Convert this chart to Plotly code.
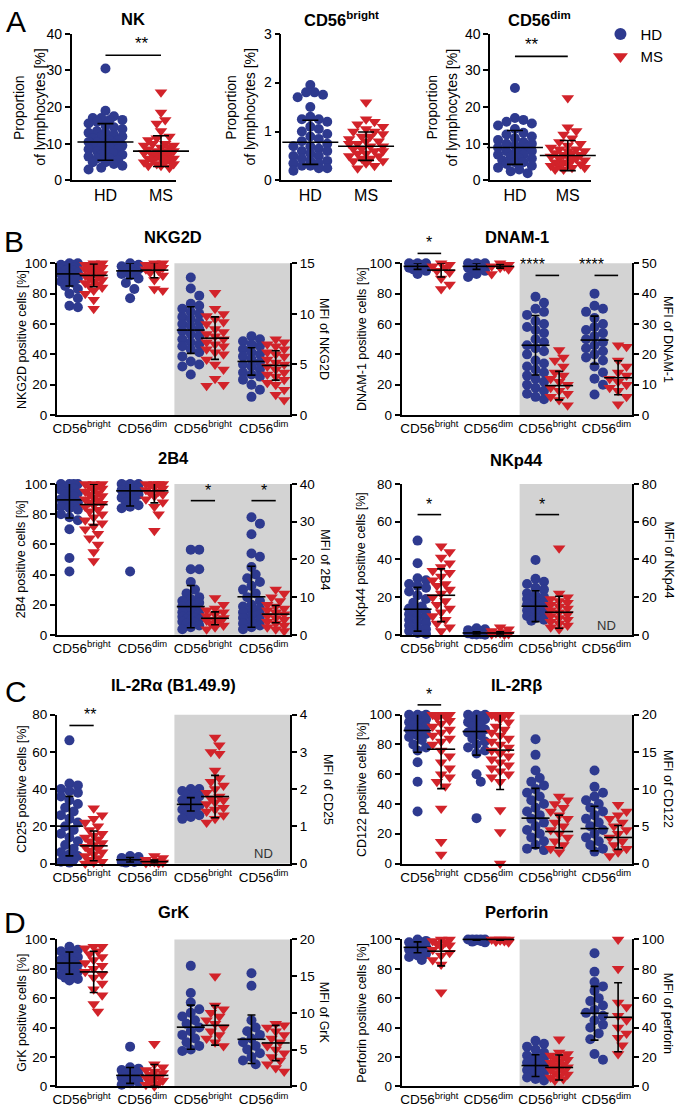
import plotly.graph_objects as go

W, H = 677, 1113
BLUE = "#2E3A8F"
RED = "#D2232A"
GREY = "#D3D3D3"
FONT = "Liberation Sans, Arial, sans-serif"

# ---------------- Panel A data ----------------
a_titles = ["NK", "CD56<sup>bright</sup>", "CD56<sup>dim</sup>"]
a_groups = ["HD", "MS"]
nk_hd = [30.5, 19, 17.5, 17, 17, 16.5, 16.5, 16, 15.5, 15, 14.5, 14, 13.5, 13, 13, 12.5, 12, 12, 11.5, 11, 11,
         10.5, 10.5, 10, 10, 9.5, 9.5, 9, 9, 8.5, 8.5, 8, 8, 7.5, 7, 7, 6.5, 6, 6, 5.5, 5, 5, 4.5, 4, 3.5, 3]
nk_ms = [24, 18.5, 16.5, 15.5, 13.5, 12, 11.5, 11, 10.5, 10, 10, 9.5, 9.5, 9, 9, 8.5, 8.5, 8, 8, 8, 7.5, 7.5, 7,
         7, 7, 6.5, 6.5, 6, 6, 6, 5.5, 5.5, 5, 5, 5, 4.5, 4.5, 4, 4, 3.5]
bright_hd = [1.95, 1.8, 1.8, 1.75, 1.7, 1.5, 1.3, 1.25, 1.25, 1.2, 1.1, 1.05, 1.0, 0.95, 0.9, 0.85, 0.8, 0.75, 0.7,
             0.7, 0.65, 0.6, 0.6, 0.55, 0.5, 0.5, 0.45, 0.4, 0.4, 0.35, 0.35, 0.3, 0.3, 0.25, 0.25, 0.2]
bright_ms = [1.6, 1.25, 1.2, 1.15, 1.1, 1.05, 1.0, 1.0, 0.95, 0.9, 0.9, 0.85, 0.8, 0.8, 0.75, 0.75, 0.7, 0.7, 0.65,
             0.65, 0.6, 0.6, 0.55, 0.55, 0.5, 0.5, 0.45, 0.45, 0.4, 0.4, 0.35, 0.3, 0.25]
dim_hd = [25.2, 17, 16.5, 16, 15.5, 15, 14, 13, 12.5, 12, 11.5, 11, 10.5, 10, 10, 9.5, 9, 9, 8.5, 8, 8, 7.5, 7, 7,
          6.5, 6, 6, 5.5, 5, 5, 4.5, 4, 3.5, 3, 2.5, 2]
dim_ms = [22.5, 14.5, 13.5, 12.5, 11.5, 10.5, 10, 9.5, 9, 8.5, 8.5, 8, 8, 7.5, 7.5, 7, 7, 6.5, 6.5, 6, 6, 5.5, 5.5,
          5, 5, 4.5, 4.5, 4, 4, 3.5, 3.5, 3, 3]
a_mean_hd = [10.5, 0.78, 9.0]
a_sd_hd = [5.0, 0.45, 4.6]
a_mean_ms = [8.0, 0.70, 6.8]
a_sd_ms = [4.2, 0.29, 4.1]
a_ymax = [40, 3, 40]
a_ystep = [10, 1, 10]
a_sig = [34.1, None, 33.8]

# ---------------- Panels B-D data ----------------
subset_labels = ["CD56<sup>bright</sup>", "CD56<sup>dim</sup>", "CD56<sup>bright</sup>", "CD56<sup>dim</sup>"]

nkg2d_hd = [[100, 100, 99, 99, 98, 98, 97, 97, 96, 96, 95, 95, 94, 94, 93, 92, 91, 90, 89, 88, 87, 85, 83, 80, 77, 72, 71],
            [100, 99, 98, 98, 97, 96, 95, 94, 93, 92, 90, 87, 83, 77],
            [13.6, 12.5, 11.8, 11, 10.8, 10.5, 10.2, 10, 9.7, 9.5, 9.2, 9, 8.8, 8.5, 8.3, 8, 7.8, 7.5, 7.2, 7, 6.8,
             6.5, 6.2, 5.8, 5.3, 5, 4.8, 4.0],
            [7.8, 7.5, 7.3, 7, 6.8, 6.5, 6.2, 6, 5.8, 5.5, 5.2, 5, 4.8, 4.5, 4.2, 4, 3.8, 3.5, 3, 2.5, 1.8]]
nkg2d_ms = [[100, 100, 99, 99, 98, 98, 97, 96, 95, 95, 94, 93, 92, 91, 90, 89, 88, 87, 86, 85, 84, 82, 80, 76, 70],
            [100, 100, 99, 99, 98, 98, 97, 96, 95, 94, 92, 89, 83, 82],
            [12.1, 10.5, 10, 9.8, 9.5, 9.2, 9, 8.5, 8.2, 8, 7.8, 7.5, 7.2, 7, 6.8, 6.5, 6.2, 6, 5.5, 5, 4.5, 3.6, 3.0, 2.9],
            [7.5, 7.2, 7, 6.8, 6.5, 6.2, 6, 5.8, 5.5, 5.2, 5, 4.8, 4.5, 4.2, 4, 3.8, 3.5, 3.2, 3, 2.5, 2, 1.5]]
nkg2d_hd_mean = [93, 95, 8.4, 5.3]
nkg2d_hd_sd = [8, 5, 2.3, 1.35]
nkg2d_ms_mean = [92, 95.5, 7.6, 4.9]
nkg2d_ms_sd = [7.5, 5, 2.1, 1.45]
nkg2d_sig = []

dnam_hd = [[100, 100, 100, 99, 99, 98, 98, 97, 97, 96, 95, 93],
           [100, 100, 100, 99, 99, 98, 98, 97, 97, 96, 95, 93, 91],
           [39, 37, 35, 34, 33, 31, 30, 29, 28, 27, 25, 24, 23, 22, 21, 20, 18, 17, 16, 15, 14, 13, 12, 11, 10, 9, 8,
            7, 6, 5.2],
           [40, 36, 35, 34, 32, 30, 29, 28, 27, 26, 25, 24, 23, 22, 21, 20, 19, 18, 16, 14, 12, 10, 6.8]]
dnam_ms = [[100, 99, 98, 97, 95, 94, 90, 86, 83],
           [100, 99, 98, 98, 97, 96, 93],
           [21.4, 19, 18, 16, 14, 13, 12, 11, 10, 9, 8, 7, 6, 5, 3.2],
           [23, 22.5, 18, 16, 14, 13, 12, 11, 10, 9, 8, 6, 3.6]]
dnam_hd_mean = [98, 98, 23, 24.7]
dnam_hd_sd = [2, 2, 9.8, 7.9]
dnam_ms_mean = [95.5, 98, 9.7, 12.3]
dnam_ms_sd = [4.5, 1.2, 4.7, 5.6]
dnam_sig = [(0, 106.5, "l", "*"), (2, 46, "r", "****"), (3, 46, "r", "****")]

b2b4_hd = [[100, 100, 100, 100, 98, 97, 96, 95, 94, 93, 92, 90, 89, 88, 87, 86, 85, 84, 83, 80, 78, 76, 70, 51, 42],
           [100, 100, 100, 99, 99, 98, 97, 96, 95, 94, 93, 92, 91, 90, 88, 86, 85, 84, 42],
           [22.6, 22.6, 17.4, 17.4, 14, 12, 11, 10, 9.5, 9, 8.5, 8, 7.5, 7, 6.5, 6, 5.5, 5, 4.8, 4.5, 4.2, 4, 3.8,
            3.5, 3.2, 3, 2.5, 2, 1.5],
           [31.2, 29.5, 26.7, 21.6, 20.7, 18, 16, 15, 14, 13, 12, 11, 10, 9, 8, 7.5, 7, 6.5, 6, 5.5, 5, 4.5, 4, 3.5,
            3, 2.5, 2, 1.5]]
b2b4_ms = [[100, 100, 100, 99, 98, 97, 96, 95, 94, 93, 92, 91, 90, 89, 88, 87, 86, 85, 83, 82, 80, 78, 76, 74, 72,
            70, 67, 64, 60, 55, 49],
           [100, 100, 100, 100, 99, 98, 97, 96, 95, 94, 93, 92, 90, 88, 85, 80, 69],
           [9.8, 8, 7, 6.5, 6, 5.5, 5, 4.5, 4, 3.8, 3.5, 3, 2.5, 2, 1.5],
           [12, 11, 10, 9, 8, 7.5, 7, 6.5, 6, 5.5, 5, 4.5, 4, 3.5, 3, 2.5, 2, 1.5, 1]]
b2b4_hd_mean = [89.5, 95.5, 7.5, 10.1]
b2b4_hd_sd = [12, 10, 5.6, 8.1]
b2b4_ms_mean = [86.4, 95.5, 4.4, 5.5]
b2b4_ms_sd = [13.5, 8, 1.7, 2.3]
b2b4_sig = [(2, 35.6, "r", "*"), (3, 35.6, "r", "*")]

nkp44_hd = [[50, 38, 30, 29, 27, 26, 25, 23, 21, 19, 17, 15, 14, 13, 12, 11, 10, 9, 8, 7, 6, 5, 4, 3, 2, 1, 0.5],
            [3.5, 3, 2.5, 2, 1.5, 1, 1, 0.8, 0.5, 0.3, 0.2, 0.1],
            [39.7, 29.8, 28.2, 27, 25, 24, 22, 21, 20, 19, 18, 17, 16, 15, 14, 13, 12, 11, 10, 9, 8, 7.5],
            []]
nkp44_ms = [[47, 44, 41, 38, 36, 34, 33, 31, 29, 27, 26, 24, 22, 20, 18, 16, 14, 12, 10, 8, 6, 4, 2],
            [4, 3, 2, 1.5, 1, 0.8, 0.5, 0.3, 0.2],
            [46, 22, 20, 19, 18, 17, 16, 15, 14, 13, 12, 11, 10, 9, 8, 7, 6, 5, 4, 3],
            []]
nkp44_hd_mean = [13.6, 1, 15.2, None]
nkp44_hd_sd = [11.6, 0.6, 8.2, None]
nkp44_ms_mean = [21, 1, 12, None]
nkp44_ms_sd = [14, 0.6, 8.5, None]
nkp44_sig = [(0, 63.8, "l", "*"), (2, 63.8, "r", "*")]

il2ra_hd = [[66.2, 43, 42, 40, 39, 38, 36, 34, 32, 30, 28, 26, 24, 22, 20, 18, 16, 14, 12, 10, 8, 6, 5, 4, 3, 2, 1, 0.5],
            [4, 3.5, 3, 2.5, 2, 1.8, 1.5, 1, 0.8, 0.5],
            [2.0, 2.0, 1.95, 1.9, 1.85, 1.8, 1.75, 1.7, 1.65, 1.6, 1.55, 1.5, 1.45, 1.4, 1.35, 1.3, 1.25, 1.2],
            []]
il2ra_ms = [[29.7, 26, 24, 22, 20, 18, 16, 15, 14, 13, 12, 11, 10, 9, 8, 7, 6, 5, 4, 3, 2, 1, 0.5, 0],
            [4, 3, 2, 1.5, 1, 0.8, 0.5, 0.3, 0.2],
            [3.39, 3.18, 3.0, 2.95, 2.5, 2.3, 2.2, 2.1, 2.0, 1.9, 1.8, 1.75, 1.7, 1.65, 1.6, 1.5, 1.45, 1.4, 1.3,
             1.2, 1.1],
            []]
il2ra_hd_mean = [20.1, 2, 1.59, None]
il2ra_hd_sd = [16, 1.2, 0.18, None]
il2ra_ms_mean = [9.5, 1, 1.8, None]
il2ra_ms_sd = [8, 0.8, 0.57, None]
il2ra_sig = [(0, 74.2, "l", "**")]

il2rb_hd = [[100, 100, 100, 99, 98, 97, 96, 95, 94, 93, 92, 91, 90, 89, 88, 87, 86, 85, 83, 80, 78, 76, 68, 55, 35],
            [100, 100, 100, 99, 98, 97, 96, 95, 93, 92, 90, 89, 88, 86, 84, 82, 80, 78, 76, 74, 60, 55, 30.5],
            [16.7, 14.6, 12.5, 11.5, 11, 10.5, 10, 9.5, 9, 8.5, 8, 7.5, 7, 6.5, 6, 5.5, 5, 4.5, 4, 3.5, 3, 2.5, 2,
             1.8],
            [12.5, 10.3, 9.5, 9, 8.5, 8, 7.5, 7, 6.5, 6, 5.5, 5, 4.5, 4, 3.5, 3, 2.5, 2, 1.6]]
il2rb_ms = [[100, 100, 100, 99, 98, 96, 94, 92, 90, 88, 86, 84, 82, 80, 76, 72, 68, 64, 60, 58, 55, 52, 37, 14.6, 6],
            [100, 100, 100, 100, 99, 97, 95, 92, 90, 88, 86, 84, 82, 80, 78, 76, 74, 72, 70, 68, 66, 64, 62, 60, 58,
             55, 36, 21.2, 0],
            [9, 8.5, 8, 7.5, 7, 6.5, 6, 5.5, 5, 4.5, 4, 3.5, 3, 2.5, 2, 1.5],
            [7.9, 7, 6.5, 6, 5.5, 5, 4.5, 4, 3.5, 3, 2.5, 2, 1.5, 1]]
il2rb_hd_mean = [89.4, 88.7, 6.1, 4.7]
il2rb_hd_sd = [14.6, 15.9, 4.0, 3.0]
il2rb_ms_mean = [76.8, 76.2, 4.3, 3.5]
il2rb_ms_sd = [26.5, 26.5, 2.2, 1.6]
il2rb_sig = [(0, 106.6, "l", "*")]

grk_hd = [[95, 93, 92, 91, 90, 89, 88, 87, 86, 85, 84, 83, 82, 81, 80, 79, 78, 77, 76, 75, 74, 73, 72],
          [27, 13, 12, 11, 10, 9, 8, 7, 6, 5, 4, 3, 2, 1],
          [16.4, 12.7, 11.4, 10.5, 10, 9.5, 9, 8.5, 8, 7.5, 7, 6.5, 6, 5.5, 5, 4.8],
          [15.4, 13.7, 9, 8, 7.5, 7, 6.5, 6, 5.5, 5, 4.5, 4, 3.5, 3]]
grk_ms = [[95, 95, 94, 92, 90, 88, 86, 84, 82, 80, 78, 76, 74, 70, 66, 62, 56, 51],
          [29, 15, 13, 11, 10, 9, 8, 7, 6, 5, 4, 3, 2, 1, 0],
          [15, 11, 10.5, 10, 9.5, 9, 8.5, 8, 7.5, 7, 6.5, 6, 5.5],
          [8.5, 8.3, 8, 7.5, 7, 6.5, 6, 5.5, 5, 4.5, 4, 3.5, 3, 2.5, 2]]
grk_hd_mean = [83.9, 7.4, 8.05, 6.4]
grk_hd_sd = [7.5, 5.4, 3.0, 3.3]
grk_ms_mean = [77.9, 7.4, 8.3, 5.9]
grk_ms_sd = [14, 7.4, 2.7, 2.4]
grk_sig = []

perf_hd = [[100, 99, 98, 97, 96, 95, 94, 93, 92, 91, 90, 89, 88, 86],
           [100, 100, 100, 100, 100, 99.5, 99, 98.5, 98],
           [31, 29, 27, 25, 23, 21, 20, 19, 18, 17, 16, 15, 14, 13, 12, 11, 10, 9, 8, 7, 6, 5, 4],
           [90.6, 78, 71, 68, 65, 60, 58, 55, 52, 50, 48, 45, 42, 40, 36, 32, 22, 18]]
perf_ms = [[100, 100, 99, 98, 97, 96, 95, 93, 91, 89, 86, 83, 64],
           [100, 100, 100, 100, 100, 99.5, 99, 98.5, 98],
           [32, 23, 22, 21, 20, 19, 18, 17, 16, 15, 14, 13, 12, 11, 10, 9, 8, 7, 6, 5, 4],
           [100, 80, 57, 54, 48, 45, 40, 36, 33, 28, 22]]
perf_hd_mean = [94.6, 100, 14.1, 49.7]
perf_hd_sd = [3.7, 0.5, 7.4, 18.3]
perf_ms_mean = [92, 100, 12.8, 47]
perf_ms_sd = [10, 0.5, 8.5, 23.5]
perf_sig = []

# ---------------- panel configuration (layout only) ----------------
panels = [
    dict(title="NKG2D", hd=nkg2d_hd, ms=nkg2d_ms, hdm=nkg2d_hd_mean, hds=nkg2d_hd_sd, msm=nkg2d_ms_mean,
         mss=nkg2d_ms_sd, sig=nkg2d_sig, row=0, col=0, lmax=100, lstep=20, rmax=15, rstep=5,
         lt="NKG2D positive cells [%]", rt="MFI of NKG2D", rtx=322, nd=False, ty=232),
    dict(title="DNAM-1", hd=dnam_hd, ms=dnam_ms, hdm=dnam_hd_mean, hds=dnam_hd_sd, msm=dnam_ms_mean,
         mss=dnam_ms_sd, sig=dnam_sig, row=0, col=1, lmax=100, lstep=20, rmax=50, rstep=10,
         lt="DNAM-1 positive cells [%]", rt="MFI of DNAM-1", rtx=668, nd=False, ty=232),
    dict(title="2B4", hd=b2b4_hd, ms=b2b4_ms, hdm=b2b4_hd_mean, hds=b2b4_hd_sd, msm=b2b4_ms_mean,
         mss=b2b4_ms_sd, sig=b2b4_sig, row=1, col=0, lmax=100, lstep=20, rmax=40, rstep=10,
         lt="2B4 positive cells [%]", rt="MFI of 2B4", rtx=322, nd=False, ty=457),
    dict(title="NKp44", hd=nkp44_hd, ms=nkp44_ms, hdm=nkp44_hd_mean, hds=nkp44_hd_sd, msm=nkp44_ms_mean,
         mss=nkp44_ms_sd, sig=nkp44_sig, row=1, col=1, lmax=80, lstep=20, rmax=80, rstep=20,
         lt="NKp44 positive cells [%]", rt="MFI of NKp44", rtx=668, nd=True, ty=459),
    dict(title="IL-2Rα (B1.49.9)", hd=il2ra_hd, ms=il2ra_ms, hdm=il2ra_hd_mean, hds=il2ra_hd_sd,
         msm=il2ra_ms_mean, mss=il2ra_ms_sd, sig=il2ra_sig, row=2, col=0, lmax=80, lstep=20, rmax=4, rstep=1,
         lt="CD25 positive cells [%]", rt="MFI of CD25", rtx=326, nd=True, ty=687),
    dict(title="IL-2Rβ", hd=il2rb_hd, ms=il2rb_ms, hdm=il2rb_hd_mean, hds=il2rb_hd_sd, msm=il2rb_ms_mean,
         mss=il2rb_ms_sd, sig=il2rb_sig, row=2, col=1, lmax=100, lstep=20, rmax=20, rstep=5,
         lt="CD122 positive cells [%]", rt="MFI of CD122", rtx=668, nd=False, ty=687),
    dict(title="GrK", hd=grk_hd, ms=grk_ms, hdm=grk_hd_mean, hds=grk_hd_sd, msm=grk_ms_mean,
         mss=grk_ms_sd, sig=grk_sig, row=3, col=0, lmax=100, lstep=20, rmax=20, rstep=5,
         lt="GrK positive cells [%]", rt="MFI of GrK", rtx=322, nd=False, ty=917),
    dict(title="Perforin", hd=perf_hd, ms=perf_ms, hdm=perf_hd_mean, hds=perf_hd_sd, msm=perf_ms_mean,
         mss=perf_ms_sd, sig=perf_sig, row=3, col=1, lmax=100, lstep=20, rmax=100, rstep=20,
         lt="Perforin positive cells [%]", rt="MFI of perforin", rtx=668, nd=False, ty=917),
]

ROWS = [(259, 413), (483, 636), (717, 868), (945, 1094)]
COLS = [(53, 288), (400, 632)]
COL_XR = [(-0.41, 3.44), (-0.47, 3.44)]
LT_X = [18, 360]
GREY_X0 = 1.53
OFF = 0.2

A_BOXX = [(68, 173), (279, 390), (489, 590)]
A_BOXY = (26, 175)
A_XR = [(-0.61, 1.27), (-0.52, 1.46), (-0.47, 1.43)]
A_TITLEX = [130, 340, 539]
A_LTX = [(15, 36), (228, 248), (431, 451)]


def swarm(vals, xscale, yscale, diam, maxhalf):
    order = sorted(range(len(vals)), key=lambda i: -vals[i])
    step = diam / 2.0
    cands = [0.0]
    k = 1
    while k * step <= maxhalf + 1e-9:
        cands += [k * step, -k * step]
        k += 1
    placed = []
    offs = [0.0] * len(vals)
    for i in order:
        y = vals[i] * yscale
        best, bestc, bestd = None, 0.0, -1.0
        for c in cands:
            dmin = min([((c - px) ** 2 + (y - py) ** 2) ** 0.5 for px, py in placed] or [1e9])
            if dmin >= diam:
                best = c
                break
            if dmin > bestd:
                bestd, bestc = dmin, c
        if best is None:
            best = bestc
        placed.append((best, y))
        offs[i] = best / xscale
    return offs


fig = go.Figure()
layout = {}
shapes = []
annotations = []

axis_common = dict(showline=True, linecolor="black", linewidth=1.6, showgrid=False, zeroline=False,
                   tickcolor="black", tickwidth=1.6, ticklen=5, tickfont=dict(family=FONT, size=13.5, color="black"))


def ann(text, x, y, size, angle=0, bold=False, xanchor="center", yanchor="middle", color="black"):
    annotations.append(dict(text=("<b>%s</b>" % text) if bold else text, x=x / W, y=1 - y / H, xref="paper",
                            yref="paper", showarrow=False, textangle=angle, xanchor=xanchor, yanchor=yanchor,
                            font=dict(family=FONT, size=size, color=color)))


def add_group(vals, mean, sd, xc, xa, ya, xscale, yscale, color, symbol, size, diam, maxhalf, meanw, capw):
    if not vals:
        return
    offs = swarm(vals, xscale, yscale, diam, maxhalf)
    fig.add_trace(go.Scatter(x=[xc + o for o in offs], y=vals, mode="markers", xaxis=xa, yaxis=ya,
                             marker=dict(color=color, symbol=symbol, size=size, line=dict(width=0)),
                             showlegend=False, cliponaxis=False, hoverinfo="skip"))
    fig.add_trace(go.Scatter(x=[xc], y=[mean], mode="markers", xaxis=xa, yaxis=ya,
                             marker=dict(symbol="line-ew", size=meanw, color="black",
                                         line=dict(color="black", width=1.6)),
                             error_y=dict(type="data", array=[sd], color="black", thickness=1.6, width=capw),
                             showlegend=False, cliponaxis=False, hoverinfo="skip"))


# ---------------- Panel A ----------------
a_data = [(nk_hd, nk_ms), (bright_hd, bright_ms), (dim_hd, dim_ms)]
for i in range(3):
    xi = i + 1
    l, r = A_BOXX[i]
    t, b = A_BOXY
    xr = A_XR[i]
    layout["xaxis%d" % xi] = dict(axis_common, domain=[l / W, r / W], range=list(xr), anchor="y%d" % xi,
                                  tickvals=[0, 1], ticktext=a_groups, ticks="",
                                  tickfont=dict(family=FONT, size=16, color="black"))
    layout["yaxis%d" % xi] = dict(axis_common, domain=[1 - b / H, 1 - t / H], range=[0, a_ymax[i]],
                                  anchor="x%d" % xi, dtick=a_ystep[i], ticks="outside",
                                  tickfont=dict(family=FONT, size=14, color="black"))
    xscale = (r - l) / (xr[1] - xr[0])
    yscale = (b - t) / a_ymax[i]
    hd, ms = a_data[i]
    add_group(hd, a_mean_hd[i], a_sd_hd[i], 0, "x%d" % xi, "y%d" % xi, xscale, yscale, BLUE, "circle", 10, 8.5,
              21, 40, 8)
    add_group(ms, a_mean_ms[i], a_sd_ms[i], 1, "x%d" % xi, "y%d" % xi, xscale, yscale, RED, "triangle-down", 11,
              8.5, 21, 40, 8)
    ann(a_titles[i], A_TITLEX[i], 11, 16.5, bold=True)
    ann("Proportion", A_LTX[i][0], (t + b) / 2, 14, angle=-90)
    ann("of lymphocytes [%]", A_LTX[i][1], (t + b) / 2, 14, angle=-90)
    if a_sig[i] is not None:
        x0 = (l + (0 - xr[0]) * xscale) / W
        x1 = (l + (1 - xr[0]) * xscale) / W
        yy = 1 - (b - a_sig[i] * yscale) / H
        shapes.append(dict(type="line", xref="paper", yref="paper", x0=x0, x1=x1, y0=yy, y1=yy,
                           line=dict(color="black", width=1.6)))
        annotations.append(dict(text="**", x=(x0 + x1) / 2, y=yy, xref="paper", yref="paper", showarrow=False,
                                yanchor="bottom", font=dict(family=FONT, size=17, color="black")))

# ---------------- Panels B-D ----------------
for k, p in enumerate(panels):
    xi = 4 + k
    yl = 4 + 2 * k
    yr = 5 + 2 * k
    t, b = ROWS[p["row"]]
    l, r = COLS[p["col"]]
    xr = COL_XR[p["col"]]
    layout["xaxis%d" % xi] = dict(axis_common, domain=[l / W, r / W], range=list(xr), anchor="y%d" % yl,
                                  tickvals=[0, 1, 2, 3], ticktext=subset_labels, ticks="",
                                  tickfont=dict(family=FONT, size=13.5, color="black"))
    layout["yaxis%d" % yl] = dict(axis_common, domain=[1 - b / H, 1 - t / H], range=[0, p["lmax"]],
                                  anchor="x%d" % xi, dtick=p["lstep"], ticks="outside")
    layout["yaxis%d" % yr] = dict(axis_common, range=[0, p["rmax"]], anchor="x%d" % xi, overlaying="y%d" % yl,
                                  side="right", dtick=p["rstep"], ticks="outside")
    xscale = (r - l) / (xr[1] - xr[0])
    ysl = (b - t) / p["lmax"]
    ysr = (b - t) / p["rmax"]
    # grey MFI background
    shapes.append(dict(type="rect", xref="paper", yref="paper", layer="below",
                       x0=(l + (GREY_X0 - xr[0]) * xscale) / W, x1=r / W, y0=1 - b / H, y1=1 - t / H,
                       fillcolor=GREY, line=dict(width=0)))
    for g in range(4):
        ya = "y%d" % (yl if g < 2 else yr)
        ys = ysl if g < 2 else ysr
        add_group(p["hd"][g], p["hdm"][g], p["hds"][g], g - OFF, "x%d" % xi, ya, xscale, ys, BLUE, "circle",
                  10, 8.5, 10, 20, 4)
        add_group(p["ms"][g], p["msm"][g], p["mss"][g], g + OFF, "x%d" % xi, ya, xscale, ys, RED,
                  "triangle-down", 11, 8.5, 10, 20, 4)
    ann(p["title"], (l + r) / 2, p["ty"], 16.5, bold=True)
    ann(p["lt"], LT_X[p["col"]], (t + b) / 2, 12.5, angle=-90)
    ann(p["rt"], p["rtx"], (t + b) / 2, 12.5, angle=90)
    if p["nd"]:
        ann("ND", l + (3 - xr[0]) * xscale, b - 10, 13, color="#333333")
    for g, val, side, stars in p["sig"]:
        ys = ysl if side == "l" else ysr
        x0 = (l + (g - OFF - xr[0]) * xscale) / W
        x1 = (l + (g + OFF - xr[0]) * xscale) / W
        yy = 1 - (b - val * ys) / H
        shapes.append(dict(type="line", xref="paper", yref="paper", x0=x0, x1=x1, y0=yy, y1=yy,
                           line=dict(color="black", width=1.6)))
        annotations.append(dict(text=stars, x=(x0 + x1) / 2, y=yy, xref="paper", yref="paper", showarrow=False,
                                yanchor="bottom", font=dict(family=FONT, size=16, color="black")))

# panel letters
for letter, x, y in [("A", 12, 14), ("B", 10, 237), ("C", 12, 693), ("D", 11, 928)]:
    ann(letter, x, y, 30)

# legend entries
fig.add_trace(go.Scatter(x=[None], y=[None], mode="markers", name="HD", xaxis="x1", yaxis="y1",
                         marker=dict(color=BLUE, symbol="circle", size=12)))
fig.add_trace(go.Scatter(x=[None], y=[None], mode="markers", name="MS", xaxis="x1", yaxis="y1",
                         marker=dict(color=RED, symbol="triangle-down", size=13)))

fig.update_layout(**layout)
fig.update_layout(width=W, height=H, margin=dict(l=0, r=0, t=0, b=0), paper_bgcolor="white",
                  plot_bgcolor="rgba(0,0,0,0)", shapes=shapes, annotations=annotations,
                  font=dict(family=FONT, color="black"),
                  showlegend=True,
                  legend=dict(x=600 / W, y=1 - 10 / H, xanchor="left", yanchor="top", bgcolor="rgba(0,0,0,0)",
                              font=dict(family=FONT, size=15, color="black"), tracegroupgap=0,
                              itemsizing="trace"))
fig.write_html("out.html", config={"displayModeBar": False},
               post_script="document.body.style.margin='0px';")
